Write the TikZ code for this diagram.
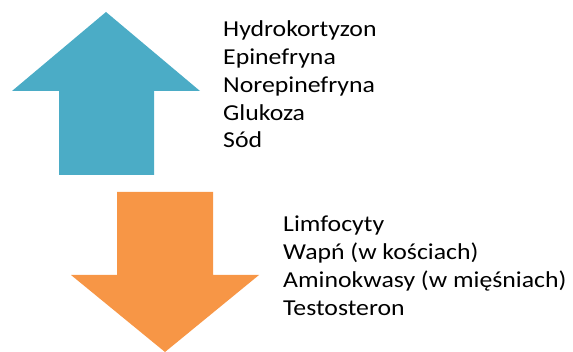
\documentclass[tikz,border=0pt]{standalone}
\usepackage{fontspec}
\setmainfont{Carlito}
\newfontfamily\listfont[FakeStretch=1.13]{Carlito}
\usetikzlibrary{positioning}
\definecolor{upblue}{HTML}{4BACC6}
\definecolor{downorange}{HTML}{F79646}

\begin{document}
\begin{tikzpicture}[x=1pt,y=-1pt,
  list/.style={align=left,anchor=base west,inner sep=0pt,
    font=\listfont\fontsize{22.8}{27.8}\selectfont}]
\useasboundingbox (0,0) rectangle (573,352);

% up arrow
\coordinate (uptip) at (106,12);
\coordinate (upl) at (12,91);
\coordinate (upr) at (200,91);
\fill[upblue] (uptip) -- (upr) -- (154,91) -- (154,175) -- (59,175) -- (59,91) -- (upl) -- cycle;

% down arrow
\coordinate (dntip) at (165,352);
\coordinate (dnl) at (71,275);
\coordinate (dnr) at (259,275);
\fill[downorange] (117,192) -- (213,192) -- (213,275) -- (dnr) -- (dntip) -- (dnl) -- (117,275) -- cycle;

% lists, base = baseline of the last line
\node[list] (uplist) at (223,147.9) {Hydrokortyzon\\Epinefryna\\Norepinefryna\\Glukoza\\Sód};
\node[list] (dnlist) at (283,315.1) {Limfocyty\\Wapń (w kościach)\\Aminokwasy (w mięśniach)\\Testosteron};
\end{tikzpicture}
\end{document}
